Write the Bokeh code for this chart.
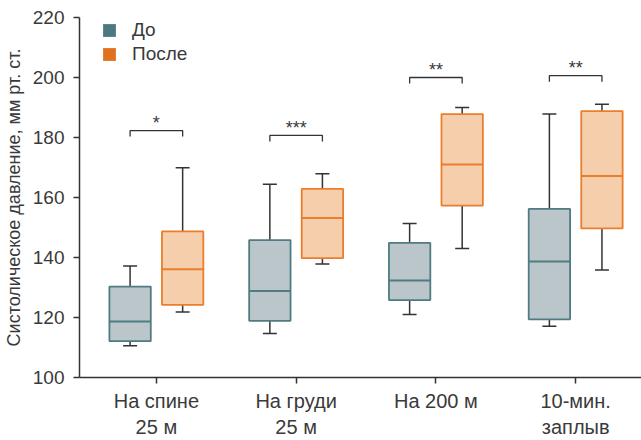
from bokeh.plotting import figure
from bokeh.models import FixedTicker, Legend, LegendItem, ColumnDataSource, Range1d
from bokeh.core.properties import value
from bokeh.embed import file_html
from bokeh.resources import INLINE

categories = ["На спине\n25 м", "На груди\n25 м", "На 200 м", "10-мин.\nзаплыв"]
series_names = ["До", "После"]

before_min = [110.6, 114.7, 121.0, 117.1]
before_q1 = [112.1, 118.9, 125.8, 119.4]
before_med = [118.7, 128.8, 132.3, 138.7]
before_q3 = [130.3, 145.8, 144.9, 156.2]
before_max = [137.2, 164.4, 151.3, 187.8]

after_min = [121.8, 137.8, 143.0, 135.8]
after_q1 = [124.2, 139.8, 157.3, 149.7]
after_med = [136.1, 153.2, 171.0, 167.2]
after_q3 = [148.7, 162.9, 187.8, 188.8]
after_max = [169.9, 167.9, 190.0, 191.1]

significance = ["*", "***", "**", "**"]
bracket_level = [182.3, 180.7, 200.0, 200.6]

y_ticks = [100, 120, 140, 160, 180, 200, 220]

FONT = "Liberation Sans"
TXT = "#3a3a3a"
DARK = "#333333"

p = figure(width=641, height=440, output_backend="svg", toolbar_location=None,
           x_range=Range1d(0.45, 4.471), y_range=Range1d(100, 220),
           min_border_left=78, min_border_right=0, min_border_top=17, min_border_bottom=63)
p.outline_line_color = None
p.grid.visible = False
p.background_fill_color = "white"
p.border_fill_color = "white"

pos = [i + 1 for i in range(len(categories))]
off = 0.188
bw = 0.296
cap = 0.05

def draw(xs, mn, q1, md, q3, mx, fill, line, legend_color):
    src = ColumnDataSource(dict(x=xs, mn=mn, q1=q1, md=md, q3=q3, mx=mx,
                                cl=[x - cap for x in xs], cr=[x + cap for x in xs],
                                bl=[x - bw / 2 for x in xs], br=[x + bw / 2 for x in xs]))
    p.segment(x0="x", y0="q3", x1="x", y1="mx", source=src, line_color=DARK, line_width=1.5)
    p.segment(x0="x", y0="q1", x1="x", y1="mn", source=src, line_color=DARK, line_width=1.5)
    p.segment(x0="cl", y0="mx", x1="cr", y1="mx", source=src, line_color=DARK, line_width=1.5)
    p.segment(x0="cl", y0="mn", x1="cr", y1="mn", source=src, line_color=DARK, line_width=1.5)
    p.vbar(x="x", width=bw, top="q3", bottom="q1", source=src,
           fill_color=fill, line_color=line, line_width=1.8)
    p.segment(x0="bl", y0="md", x1="br", y1="md", source=src, line_color=line, line_width=2)
    # zero-height bars used only as legend swatches
    return p.vbar(x="x", width=0, top="mn", bottom="mn", source=src,
                  fill_color=legend_color, line_color=None)

xb = [x - off for x in pos]
xa = [x + off for x in pos]
r1 = draw(xb, before_min, before_q1, before_med, before_q3, before_max, "#bac6ca", "#4e7c82", "#4a7a80")
r2 = draw(xa, after_min, after_q1, after_med, after_q3, after_max, "#f5cfab", "#eb7d2c", "#e0711e")

# significance brackets
drop = 2.0
bx, by = [], []
for i in range(len(pos)):
    bx.append([xb[i], xb[i], xa[i], xa[i]])
    by.append([bracket_level[i] - drop, bracket_level[i], bracket_level[i], bracket_level[i] - drop])
p.multi_line(xs=bx, ys=by, line_color=DARK, line_width=1.3)
p.text(x=pos, y=[b + 2.5 for b in bracket_level], text=significance,
       text_font=value(FONT), text_font_size="18px", text_color=TXT,
       text_align="center", text_baseline="alphabetic")

# legend
leg = Legend(items=[LegendItem(label=series_names[0], renderers=[r1], index=0),
                    LegendItem(label=series_names[1], renderers=[r2], index=0)],
             location=(22, 312), glyph_width=16, glyph_height=16, label_height=22,
             spacing=2, padding=0, margin=0, label_standoff=15,
             label_text_font=FONT, label_text_font_size="19px", label_text_color=TXT,
             background_fill_alpha=0, border_line_alpha=0)
p.add_layout(leg)

# axes
p.xaxis.ticker = FixedTicker(ticks=pos)
p.xaxis.major_label_overrides = {pos[i]: categories[i] for i in range(len(pos))}
p.yaxis.ticker = FixedTicker(ticks=y_ticks)
for ax in (p.xaxis, p.yaxis):
    ax.axis_line_color = DARK
    ax.axis_line_width = 1.5
    ax.major_tick_line_color = DARK
    ax.major_tick_line_width = 1.5
    ax.major_tick_out = 6
    ax.major_tick_in = 0
    ax.minor_tick_line_color = None
    ax.major_label_text_font = FONT
    ax.major_label_text_font_size = "19px"
    ax.major_label_text_color = TXT
p.xaxis.major_label_text_font_size = "20px"
p.xaxis.major_label_standoff = 6
p.yaxis.major_label_standoff = 9
p.yaxis.axis_label = "Систолическое давление, мм рт. ст."
p.yaxis.axis_label_text_font = FONT
p.yaxis.axis_label_text_font_size = "18px"
p.yaxis.axis_label_text_font_style = "normal"
p.yaxis.axis_label_text_color = TXT
p.yaxis.axis_label_standoff = 6

open("out.html", "w").write(file_html(p, INLINE))
